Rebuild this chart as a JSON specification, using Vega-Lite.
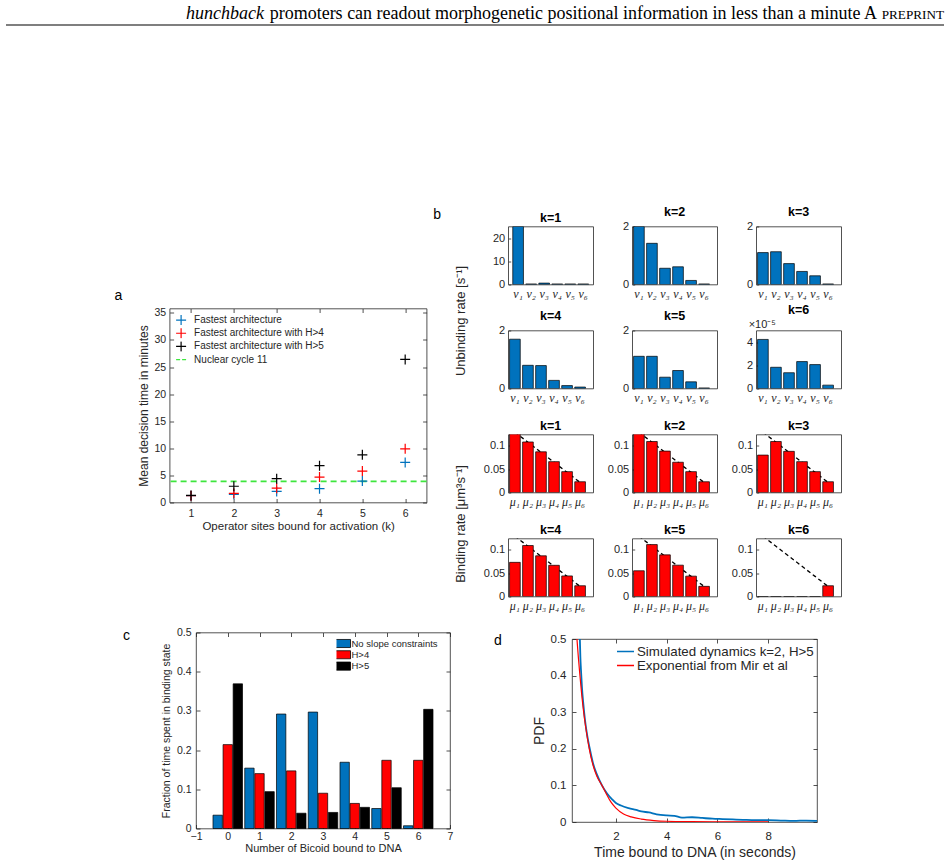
{
  "$schema": "https://vega.github.io/schema/vega-lite/v6.json",
  "background": "white",
  "padding": {"left": 5, "top": 5, "right": 5, "bottom": 5},
  "spacing": 179.5,
  "resolve": {"scale": {"color": "independent", "shape": "independent"}},
  "datasets": {
    "header": [
      {"style": "italic", "text": "hunchback"},
      {"style": "roman", "text": "promoters can readout morphogenetic positional information in less than a minute A"},
      {"style": "smallcaps", "text": "PREPRINT"}
    ],
    "decision": [
      {"k": 1, "time": 1.25, "series": "Fastest architecture"},
      {"k": 2, "time": 1.5, "series": "Fastest architecture"},
      {"k": 3, "time": 2.05, "series": "Fastest architecture"},
      {"k": 4, "time": 2.55, "series": "Fastest architecture"},
      {"k": 5, "time": 3.95, "series": "Fastest architecture"},
      {"k": 6, "time": 7.4, "series": "Fastest architecture"},
      {"k": 1, "time": 1.25, "series": "Fastest architecture with H>4"},
      {"k": 2, "time": 1.7, "series": "Fastest architecture with H>4"},
      {"k": 3, "time": 2.65, "series": "Fastest architecture with H>4"},
      {"k": 4, "time": 4.7, "series": "Fastest architecture with H>4"},
      {"k": 5, "time": 5.8, "series": "Fastest architecture with H>4"},
      {"k": 6, "time": 9.9, "series": "Fastest architecture with H>4"},
      {"k": 1, "time": 1.3, "series": "Fastest architecture with H>5"},
      {"k": 2, "time": 3.0, "series": "Fastest architecture with H>5"},
      {"k": 3, "time": 4.4, "series": "Fastest architecture with H>5"},
      {"k": 4, "time": 6.8, "series": "Fastest architecture with H>5"},
      {"k": 5, "time": 8.8, "series": "Fastest architecture with H>5"},
      {"k": 6, "time": 26.4, "series": "Fastest architecture with H>5"},
      {"time": 3.9, "series": "Nuclear cycle 11"}
    ],
    "unbind": [
      {"k": 1, "site": "ν₁", "rate": 25.3}, {"k": 1, "site": "ν₂", "rate": 0.25}, {"k": 1, "site": "ν₃", "rate": 0.6},
      {"k": 1, "site": "ν₄", "rate": 0.25}, {"k": 1, "site": "ν₅", "rate": 0.25}, {"k": 1, "site": "ν₆", "rate": 0.25},
      {"k": 2, "site": "ν₁", "rate": 2.0}, {"k": 2, "site": "ν₂", "rate": 1.42}, {"k": 2, "site": "ν₃", "rate": 0.56},
      {"k": 2, "site": "ν₄", "rate": 0.61}, {"k": 2, "site": "ν₅", "rate": 0.14}, {"k": 2, "site": "ν₆", "rate": 0.02},
      {"k": 3, "site": "ν₁", "rate": 1.1}, {"k": 3, "site": "ν₂", "rate": 1.13}, {"k": 3, "site": "ν₃", "rate": 0.72},
      {"k": 3, "site": "ν₄", "rate": 0.45}, {"k": 3, "site": "ν₅", "rate": 0.3}, {"k": 3, "site": "ν₆", "rate": 0.02},
      {"k": 4, "site": "ν₁", "rate": 1.7}, {"k": 4, "site": "ν₂", "rate": 0.8}, {"k": 4, "site": "ν₃", "rate": 0.79},
      {"k": 4, "site": "ν₄", "rate": 0.28}, {"k": 4, "site": "ν₅", "rate": 0.1}, {"k": 4, "site": "ν₆", "rate": 0.05},
      {"k": 5, "site": "ν₁", "rate": 1.11}, {"k": 5, "site": "ν₂", "rate": 1.11}, {"k": 5, "site": "ν₃", "rate": 0.39},
      {"k": 5, "site": "ν₄", "rate": 0.62}, {"k": 5, "site": "ν₅", "rate": 0.23}, {"k": 5, "site": "ν₆", "rate": 0.02},
      {"k": 6, "site": "ν₁", "rate": 4.23e-5}, {"k": 6, "site": "ν₂", "rate": 1.83e-5}, {"k": 6, "site": "ν₃", "rate": 1.36e-5},
      {"k": 6, "site": "ν₄", "rate": 2.32e-5}, {"k": 6, "site": "ν₅", "rate": 2.06e-5}, {"k": 6, "site": "ν₆", "rate": 0.29e-5}
    ],
    "bind": [
      {"k": 1, "site": "μ₁", "rate": 0.128}, {"k": 1, "site": "μ₂", "rate": 0.108}, {"k": 1, "site": "μ₃", "rate": 0.087},
      {"k": 1, "site": "μ₄", "rate": 0.066}, {"k": 1, "site": "μ₅", "rate": 0.0446}, {"k": 1, "site": "μ₆", "rate": 0.023},
      {"k": 2, "site": "μ₁", "rate": 0.128}, {"k": 2, "site": "μ₂", "rate": 0.109}, {"k": 2, "site": "μ₃", "rate": 0.0885},
      {"k": 2, "site": "μ₄", "rate": 0.0647}, {"k": 2, "site": "μ₅", "rate": 0.0446}, {"k": 2, "site": "μ₆", "rate": 0.023},
      {"k": 3, "site": "μ₁", "rate": 0.08}, {"k": 3, "site": "μ₂", "rate": 0.109}, {"k": 3, "site": "μ₃", "rate": 0.088},
      {"k": 3, "site": "μ₄", "rate": 0.066}, {"k": 3, "site": "μ₅", "rate": 0.0446}, {"k": 3, "site": "μ₆", "rate": 0.023},
      {"k": 4, "site": "μ₁", "rate": 0.073}, {"k": 4, "site": "μ₂", "rate": 0.109}, {"k": 4, "site": "μ₃", "rate": 0.087},
      {"k": 4, "site": "μ₄", "rate": 0.0667}, {"k": 4, "site": "μ₅", "rate": 0.044}, {"k": 4, "site": "μ₆", "rate": 0.023},
      {"k": 5, "site": "μ₁", "rate": 0.055}, {"k": 5, "site": "μ₂", "rate": 0.111}, {"k": 5, "site": "μ₃", "rate": 0.089},
      {"k": 5, "site": "μ₄", "rate": 0.067}, {"k": 5, "site": "μ₅", "rate": 0.0435}, {"k": 5, "site": "μ₆", "rate": 0.0217},
      {"k": 6, "site": "μ₁", "rate": 0}, {"k": 6, "site": "μ₂", "rate": 0}, {"k": 6, "site": "μ₃", "rate": 0},
      {"k": 6, "site": "μ₄", "rate": 0}, {"k": 6, "site": "μ₅", "rate": 0}, {"k": 6, "site": "μ₆", "rate": 0.023}
    ],
    "limit": [
      {"site": "μ₁", "rate": 0.129}, {"site": "μ₂", "rate": 0.1075}, {"site": "μ₃", "rate": 0.086},
      {"site": "μ₄", "rate": 0.0645}, {"site": "μ₅", "rate": 0.043}, {"site": "μ₆", "rate": 0.0215}
    ],
    "occupancy": [
      {"n": 0, "series": "No slope constraints", "fraction": 0.034}, {"n": 1, "series": "No slope constraints", "fraction": 0.154},
      {"n": 2, "series": "No slope constraints", "fraction": 0.292}, {"n": 3, "series": "No slope constraints", "fraction": 0.297},
      {"n": 4, "series": "No slope constraints", "fraction": 0.169}, {"n": 5, "series": "No slope constraints", "fraction": 0.051},
      {"n": 6, "series": "No slope constraints", "fraction": 0.007},
      {"n": 0, "series": "H>4", "fraction": 0.214}, {"n": 1, "series": "H>4", "fraction": 0.14},
      {"n": 2, "series": "H>4", "fraction": 0.147}, {"n": 3, "series": "H>4", "fraction": 0.09},
      {"n": 4, "series": "H>4", "fraction": 0.064}, {"n": 5, "series": "H>4", "fraction": 0.174},
      {"n": 6, "series": "H>4", "fraction": 0.174},
      {"n": 0, "series": "H>5", "fraction": 0.369}, {"n": 1, "series": "H>5", "fraction": 0.094},
      {"n": 2, "series": "H>5", "fraction": 0.039}, {"n": 3, "series": "H>5", "fraction": 0.041},
      {"n": 4, "series": "H>5", "fraction": 0.054}, {"n": 5, "series": "H>5", "fraction": 0.104},
      {"n": 6, "series": "H>5", "fraction": 0.304}
    ],
    "dwell": [
      {"series": "Simulated dynamics k=2, H>5", "t": 0.58, "pdf": 0.5},
      {"series": "Simulated dynamics k=2, H>5", "t": 0.6, "pdf": 0.45},
      {"series": "Simulated dynamics k=2, H>5", "t": 0.62, "pdf": 0.42},
      {"series": "Simulated dynamics k=2, H>5", "t": 0.66, "pdf": 0.37},
      {"series": "Simulated dynamics k=2, H>5", "t": 0.72, "pdf": 0.32},
      {"series": "Simulated dynamics k=2, H>5", "t": 0.78, "pdf": 0.28},
      {"series": "Simulated dynamics k=2, H>5", "t": 0.86, "pdf": 0.24},
      {"series": "Simulated dynamics k=2, H>5", "t": 0.97, "pdf": 0.2},
      {"series": "Simulated dynamics k=2, H>5", "t": 1.1, "pdf": 0.16},
      {"series": "Simulated dynamics k=2, H>5", "t": 1.25, "pdf": 0.13},
      {"series": "Simulated dynamics k=2, H>5", "t": 1.45, "pdf": 0.1},
      {"series": "Simulated dynamics k=2, H>5", "t": 1.65, "pdf": 0.078},
      {"series": "Simulated dynamics k=2, H>5", "t": 1.85, "pdf": 0.062},
      {"series": "Simulated dynamics k=2, H>5", "t": 2.0, "pdf": 0.052},
      {"series": "Simulated dynamics k=2, H>5", "t": 2.2, "pdf": 0.045},
      {"series": "Simulated dynamics k=2, H>5", "t": 2.5, "pdf": 0.038},
      {"series": "Simulated dynamics k=2, H>5", "t": 2.8, "pdf": 0.033},
      {"series": "Simulated dynamics k=2, H>5", "t": 3.0, "pdf": 0.029},
      {"series": "Simulated dynamics k=2, H>5", "t": 3.3, "pdf": 0.026},
      {"series": "Simulated dynamics k=2, H>5", "t": 3.6, "pdf": 0.021},
      {"series": "Simulated dynamics k=2, H>5", "t": 4.0, "pdf": 0.018},
      {"series": "Simulated dynamics k=2, H>5", "t": 4.3, "pdf": 0.017},
      {"series": "Simulated dynamics k=2, H>5", "t": 4.6, "pdf": 0.012},
      {"series": "Simulated dynamics k=2, H>5", "t": 5.0, "pdf": 0.013},
      {"series": "Simulated dynamics k=2, H>5", "t": 5.4, "pdf": 0.011},
      {"series": "Simulated dynamics k=2, H>5", "t": 5.8, "pdf": 0.009},
      {"series": "Simulated dynamics k=2, H>5", "t": 6.2, "pdf": 0.008},
      {"series": "Simulated dynamics k=2, H>5", "t": 6.6, "pdf": 0.007},
      {"series": "Simulated dynamics k=2, H>5", "t": 7.0, "pdf": 0.006},
      {"series": "Simulated dynamics k=2, H>5", "t": 7.5, "pdf": 0.005},
      {"series": "Simulated dynamics k=2, H>5", "t": 8.0, "pdf": 0.005},
      {"series": "Simulated dynamics k=2, H>5", "t": 8.5, "pdf": 0.004},
      {"series": "Simulated dynamics k=2, H>5", "t": 9.0, "pdf": 0.003},
      {"series": "Simulated dynamics k=2, H>5", "t": 9.5, "pdf": 0.004},
      {"series": "Simulated dynamics k=2, H>5", "t": 9.92, "pdf": 0.003},
      {"series": "Exponential from Mir et al", "t": 0.465, "pdf": 0.5},
      {"series": "Exponential from Mir et al", "t": 0.52, "pdf": 0.45},
      {"series": "Exponential from Mir et al", "t": 0.583, "pdf": 0.4},
      {"series": "Exponential from Mir et al", "t": 0.65, "pdf": 0.35},
      {"series": "Exponential from Mir et al", "t": 0.73, "pdf": 0.3},
      {"series": "Exponential from Mir et al", "t": 0.83, "pdf": 0.25},
      {"series": "Exponential from Mir et al", "t": 0.95, "pdf": 0.2},
      {"series": "Exponential from Mir et al", "t": 1.1, "pdf": 0.155},
      {"series": "Exponential from Mir et al", "t": 1.25, "pdf": 0.125},
      {"series": "Exponential from Mir et al", "t": 1.45, "pdf": 0.1},
      {"series": "Exponential from Mir et al", "t": 1.6, "pdf": 0.08},
      {"series": "Exponential from Mir et al", "t": 1.8, "pdf": 0.055},
      {"series": "Exponential from Mir et al", "t": 2.0, "pdf": 0.038},
      {"series": "Exponential from Mir et al", "t": 2.3, "pdf": 0.022},
      {"series": "Exponential from Mir et al", "t": 2.6, "pdf": 0.014},
      {"series": "Exponential from Mir et al", "t": 3.0, "pdf": 0.008},
      {"series": "Exponential from Mir et al", "t": 3.5, "pdf": 0.004},
      {"series": "Exponential from Mir et al", "t": 4.0, "pdf": 0.002},
      {"series": "Exponential from Mir et al", "t": 5.0, "pdf": 0.0008},
      {"series": "Exponential from Mir et al", "t": 6.0, "pdf": 0.0004},
      {"series": "Exponential from Mir et al", "t": 7.0, "pdf": 0.0002},
      {"series": "Exponential from Mir et al", "t": 8.0, "pdf": 0.0001}
    ]
  },
  "vconcat": [
    {
      "width": 938,
      "height": 20,
      "view": {"stroke": null},
      "data": {"name": "header"},
      "layer": [
        {
          "transform": [{"filter": "datum.style == 'smallcaps'"}],
          "mark": {"type": "rule", "color": "#000000", "strokeWidth": 1.2},
          "encoding": {
            "x": {"datum": 0, "type": "quantitative", "scale": {"domain": [0, 1]}, "axis": null},
            "x2": {"datum": 1},
            "y": {"datum": 0, "type": "quantitative", "scale": {"domain": [0, 20]}, "axis": null}
          }
        },
        {
          "transform": [{"filter": "datum.style == 'smallcaps'"}],
          "mark": {"type": "text", "align": "right", "baseline": "alphabetic", "font": "Liberation Serif", "fontSize": 13.2, "color": "#000000"},
          "encoding": {"x": {"datum": 1, "type": "quantitative"}, "y": {"datum": 6, "type": "quantitative"}, "text": {"field": "text"}}
        },
        {
          "transform": [{"filter": "datum.style == 'roman'"}],
          "mark": {"type": "text", "align": "right", "baseline": "alphabetic", "font": "Liberation Serif", "fontSize": 18, "color": "#000000", "dx": -67},
          "encoding": {"x": {"datum": 1, "type": "quantitative"}, "y": {"datum": 6, "type": "quantitative"}, "text": {"field": "text"}}
        },
        {
          "transform": [{"filter": "datum.style == 'italic'"}],
          "mark": {"type": "text", "align": "right", "baseline": "alphabetic", "font": "Liberation Serif", "fontStyle": "italic", "fontSize": 18, "color": "#000000", "dx": -680},
          "encoding": {"x": {"datum": 1, "type": "quantitative"}, "y": {"datum": 6, "type": "quantitative"}, "text": {"field": "text"}}
        }
      ]
    },
    {
      "spacing": 14,
      "resolve": {"scale": {"color": "independent", "shape": "independent"}},
      "vconcat": [
        {
          "spacing": 4.6,
          "resolve": {"scale": {"color": "independent", "shape": "independent"}},
          "hconcat": [
            {"width": 102.4, "height": 1, "view": {"stroke": null}, "data": {"values": []}, "mark": "point"},
            {
              "bounds": "flush",
              "spacing": 20,
              "resolve": {"scale": {"color": "independent", "shape": "independent"}},
              "vconcat": [
                {"width": 1, "height": 61.3, "view": {"stroke": null}, "data": {"values": []}, "mark": "point"},
                {
                  "width": 257,
                  "height": 194,
                  "title": {"text": "a", "anchor": "start", "frame": "group", "dx": -55, "offset": -5.85, "baseline": "alphabetic", "fontSize": 14},
                  "data": {"name": "decision"},
                  "layer": [
                    {
                      "transform": [{"filter": "datum.series == 'Nuclear cycle 11'"}],
                      "mark": {"type": "rule", "strokeDash": [6, 4], "strokeWidth": 1.6},
                      "encoding": {
                        "y": {
                          "field": "time", "type": "quantitative",
                          "scale": {"domain": [0, 35.8], "nice": false},
                          "axis": {"values": [0, 5, 10, 15, 20, 25, 30, 35], "title": "Mean decision time in minutes", "labelPadding": 8, "titlePadding": 3, "titleFontSize": 12}
                        },
                        "color": {
                          "field": "series", "type": "nominal",
                          "scale": {"domain": ["Fastest architecture", "Fastest architecture with H>4", "Fastest architecture with H>5", "Nuclear cycle 11"], "range": ["#0072BD", "#FF0000", "#000000", "#3ee63e"]},
                          "legend": {"orient": "none", "legendX": 4.5, "legendY": 5.3, "title": null, "padding": 1, "labelFontSize": 10, "symbolSize": 100, "symbolStrokeWidth": 1.2, "clipHeight": 10.5, "rowPadding": 2.2, "labelOffset": 7}
                        }
                      }
                    },
                    {
                      "transform": [{"filter": "datum.series != 'Nuclear cycle 11'"}],
                      "mark": {"type": "point", "filled": false, "size": 100, "strokeWidth": 1.2, "opacity": 1},
                      "encoding": {
                        "x": {
                          "field": "k", "type": "quantitative",
                          "scale": {"domain": [0.5, 6.5], "nice": false},
                          "axis": {"values": [1, 2, 3, 4, 5, 6], "title": "Operator sites bound for activation (k)", "labelPadding": 10, "titlePadding": 1, "titleFontSize": 11.5}
                        },
                        "y": {"field": "time", "type": "quantitative", "axis": null},
                        "color": {
                          "field": "series", "type": "nominal",
                          "scale": {"domain": ["Fastest architecture", "Fastest architecture with H>4", "Fastest architecture with H>5", "Nuclear cycle 11"], "range": ["#0072BD", "#FF0000", "#000000", "#3ee63e"]}
                        },
                        "shape": {
                          "field": "series", "type": "nominal",
                          "scale": {"domain": ["Fastest architecture", "Fastest architecture with H>4", "Fastest architecture with H>5", "Nuclear cycle 11"], "range": ["M-1,0H1M0,-1V1", "M-1,0H1M0,-1V1", "M-1,0H1M0,-1V1", "M-1,0H-0.2M0.2,0H1"]}
                        }
                      }
                    },
                    {
                      "transform": [{"filter": "datum.series != 'Nuclear cycle 11'"}],
                      "mark": {"type": "point", "opacity": 0},
                      "encoding": {
                        "x": {"field": "k", "type": "quantitative", "axis": {"orient": "top", "values": [1, 2, 3, 4, 5, 6], "labels": false, "title": null}},
                        "y": {"field": "time", "type": "quantitative", "axis": {"orient": "right", "values": [0, 5, 10, 15, 20, 25, 30, 35], "labels": false, "title": null}}
                      }
                    }
                  ],
                  "resolve": {"axis": {"x": "independent", "y": "independent"}}
                }
              ]
            },
            {
              "bounds": "flush",
              "columns": 3,
              "spacing": {"row": 46, "column": 39},
              "title": {"text": "b", "anchor": "start", "frame": "group", "dx": -75, "offset": -27.5, "baseline": "alphabetic", "fontSize": 14},
              "concat": [
                {
                  "width": 85, "height": 58,
                  "title": {"text": "k=1", "fontWeight": "bold", "fontSize": 12.5, "offset": 2},
                  "data": {"name": "unbind"},
                  "transform": [{"filter": "datum.k == 1"}],
                  "mark": {"type": "bar", "fill": "#0072BD", "stroke": "#000000", "strokeWidth": 0.7, "clip": true},
                  "encoding": {
                    "x": {"field": "site", "type": "nominal", "sort": null, "scale": {"paddingInner": 0.18, "paddingOuter": 0.35, "align": 0.5}, "axis": {"title": null, "labelAngle": 0, "ticks": false, "labelPadding": 4, "labelFont": "Liberation Serif", "labelFontStyle": "italic", "labelFontSize": 12}},
                    "y": {"field": "rate", "type": "quantitative", "scale": {"domain": [0, 25.3], "nice": false}, "axis": {"values": [0, 10, 20], "format": "d", "tickSize": -2.5, "labelPadding": 6, "labelFontSize": 11, "title": "Unbinding rate [s⁻¹]", "titleX": -48, "titleY": 94, "titleBaseline": "middle", "titleFontSize": 13}}
                  }
                },
                {
                  "width": 85, "height": 58,
                  "title": {"text": "k=2", "fontWeight": "bold", "fontSize": 12.5, "offset": 2},
                  "data": {"name": "unbind"},
                  "transform": [{"filter": "datum.k == 2"}],
                  "mark": {"type": "bar", "fill": "#0072BD", "stroke": "#000000", "strokeWidth": 0.7, "clip": true},
                  "encoding": {
                    "x": {"field": "site", "type": "nominal", "sort": null, "scale": {"paddingInner": 0.18, "paddingOuter": 0.35, "align": 0.15}, "axis": {"title": null, "labelAngle": 0, "ticks": false, "labelPadding": 4, "labelFont": "Liberation Serif", "labelFontStyle": "italic", "labelFontSize": 12}},
                    "y": {"field": "rate", "type": "quantitative", "scale": {"domain": [0, 2], "nice": false}, "axis": {"values": [0, 1, 2], "format": "d", "tickSize": -2.5, "labelPadding": 6, "labelFontSize": 11, "title": null}}
                  }
                },
                {
                  "width": 85, "height": 58,
                  "title": {"text": "k=3", "fontWeight": "bold", "fontSize": 12.5, "offset": 2},
                  "data": {"name": "unbind"},
                  "transform": [{"filter": "datum.k == 3"}],
                  "mark": {"type": "bar", "fill": "#0072BD", "stroke": "#000000", "strokeWidth": 0.7, "clip": true},
                  "encoding": {
                    "x": {"field": "site", "type": "nominal", "sort": null, "scale": {"paddingInner": 0.18, "paddingOuter": 0.35, "align": 0.15}, "axis": {"title": null, "labelAngle": 0, "ticks": false, "labelPadding": 4, "labelFont": "Liberation Serif", "labelFontStyle": "italic", "labelFontSize": 12}},
                    "y": {"field": "rate", "type": "quantitative", "scale": {"domain": [0, 2], "nice": false}, "axis": {"values": [0, 1, 2], "format": "d", "tickSize": -2.5, "labelPadding": 6, "labelFontSize": 11, "title": null}}
                  }
                },
                {
                  "width": 85, "height": 58,
                  "title": {"text": "k=4", "fontWeight": "bold", "fontSize": 12.5, "offset": 2},
                  "data": {"name": "unbind"},
                  "transform": [{"filter": "datum.k == 4"}],
                  "mark": {"type": "bar", "fill": "#0072BD", "stroke": "#000000", "strokeWidth": 0.7, "clip": true},
                  "encoding": {
                    "x": {"field": "site", "type": "nominal", "sort": null, "scale": {"paddingInner": 0.18, "paddingOuter": 0.35, "align": 0.15}, "axis": {"title": null, "labelAngle": 0, "ticks": false, "labelPadding": 4, "labelFont": "Liberation Serif", "labelFontStyle": "italic", "labelFontSize": 12}},
                    "y": {"field": "rate", "type": "quantitative", "scale": {"domain": [0, 2], "nice": false}, "axis": {"values": [0, 1, 2], "format": "d", "tickSize": -2.5, "labelPadding": 6, "labelFontSize": 11, "title": null}}
                  }
                },
                {
                  "width": 85, "height": 58,
                  "title": {"text": "k=5", "fontWeight": "bold", "fontSize": 12.5, "offset": 2},
                  "data": {"name": "unbind"},
                  "transform": [{"filter": "datum.k == 5"}],
                  "mark": {"type": "bar", "fill": "#0072BD", "stroke": "#000000", "strokeWidth": 0.7, "clip": true},
                  "encoding": {
                    "x": {"field": "site", "type": "nominal", "sort": null, "scale": {"paddingInner": 0.18, "paddingOuter": 0.35, "align": 0.15}, "axis": {"title": null, "labelAngle": 0, "ticks": false, "labelPadding": 4, "labelFont": "Liberation Serif", "labelFontStyle": "italic", "labelFontSize": 12}},
                    "y": {"field": "rate", "type": "quantitative", "scale": {"domain": [0, 2], "nice": false}, "axis": {"values": [0, 1, 2], "format": "d", "tickSize": -2.5, "labelPadding": 6, "labelFontSize": 11, "title": null}}
                  }
                },
                {
                  "width": 85, "height": 58,
                  "title": {"text": "k=6", "fontWeight": "bold", "fontSize": 12.5, "offset": 2},
                  "data": {"name": "unbind"},
                  "transform": [{"filter": "datum.k == 6"}],
                  "mark": {"type": "bar", "fill": "#0072BD", "stroke": "#000000", "strokeWidth": 0.7, "clip": true},
                  "encoding": {
                    "x": {"field": "site", "type": "nominal", "sort": null, "scale": {"paddingInner": 0.18, "paddingOuter": 0.35, "align": 0.15}, "axis": {"title": null, "labelAngle": 0, "ticks": false, "labelPadding": 4, "labelFont": "Liberation Serif", "labelFontStyle": "italic", "labelFontSize": 12}},
                    "y": {"field": "rate", "type": "quantitative", "scale": {"domain": [0, 5e-5], "nice": false}, "axis": {"values": [0, 2e-5, 4e-5], "labelExpr": "format(datum.value * 100000, '~g')", "tickSize": -2.5, "labelPadding": 6, "labelFontSize": 11, "title": "×10⁻⁵", "titleAngle": 0, "titleAlign": "left", "titleBaseline": "alphabetic", "titleX": -8, "titleY": -3, "titleFontSize": 11}}
                  }
                },
                {
                  "width": 85, "height": 58,
                  "title": {"text": "k=1", "fontWeight": "bold", "fontSize": 12.5, "offset": 2},
                  "encoding": {
                    "x": {"field": "site", "type": "nominal", "sort": null, "scale": {"paddingInner": 0.18, "paddingOuter": 0.35, "align": 0.15}, "axis": {"title": null, "labelAngle": 0, "ticks": false, "labelPadding": 4, "labelFont": "Liberation Serif", "labelFontStyle": "italic", "labelFontSize": 12}},
                    "y": {"field": "rate", "type": "quantitative", "scale": {"domain": [0, 0.124], "nice": false}, "axis": {"values": [0, 0.05, 0.1], "format": "~g", "tickSize": -2.5, "labelPadding": 6, "labelFontSize": 11, "title": "Binding rate [μm³s⁻¹]", "titleX": -48, "titleY": 89, "titleBaseline": "middle", "titleFontSize": 13}}
                  },
                  "layer": [
                    {"data": {"name": "limit"}, "mark": {"type": "line", "color": "#000000", "strokeWidth": 1.3, "strokeDash": [4, 3], "clip": true}},
                    {"data": {"name": "bind"}, "transform": [{"filter": "datum.k == 1"}], "mark": {"type": "bar", "fill": "#FF0000", "stroke": "#000000", "strokeWidth": 0.7, "clip": true}}
                  ]
                },
                {
                  "width": 85, "height": 58,
                  "title": {"text": "k=2", "fontWeight": "bold", "fontSize": 12.5, "offset": 2},
                  "encoding": {
                    "x": {"field": "site", "type": "nominal", "sort": null, "scale": {"paddingInner": 0.18, "paddingOuter": 0.35, "align": 0.15}, "axis": {"title": null, "labelAngle": 0, "ticks": false, "labelPadding": 4, "labelFont": "Liberation Serif", "labelFontStyle": "italic", "labelFontSize": 12}},
                    "y": {"field": "rate", "type": "quantitative", "scale": {"domain": [0, 0.124], "nice": false}, "axis": {"values": [0, 0.05, 0.1], "format": "~g", "tickSize": -2.5, "labelPadding": 6, "labelFontSize": 11, "title": null}}
                  },
                  "layer": [
                    {"data": {"name": "limit"}, "mark": {"type": "line", "color": "#000000", "strokeWidth": 1.3, "strokeDash": [4, 3], "clip": true}},
                    {"data": {"name": "bind"}, "transform": [{"filter": "datum.k == 2"}], "mark": {"type": "bar", "fill": "#FF0000", "stroke": "#000000", "strokeWidth": 0.7, "clip": true}}
                  ]
                },
                {
                  "width": 85, "height": 58,
                  "title": {"text": "k=3", "fontWeight": "bold", "fontSize": 12.5, "offset": 2},
                  "encoding": {
                    "x": {"field": "site", "type": "nominal", "sort": null, "scale": {"paddingInner": 0.18, "paddingOuter": 0.35, "align": 0.15}, "axis": {"title": null, "labelAngle": 0, "ticks": false, "labelPadding": 4, "labelFont": "Liberation Serif", "labelFontStyle": "italic", "labelFontSize": 12}},
                    "y": {"field": "rate", "type": "quantitative", "scale": {"domain": [0, 0.124], "nice": false}, "axis": {"values": [0, 0.05, 0.1], "format": "~g", "tickSize": -2.5, "labelPadding": 6, "labelFontSize": 11, "title": null}}
                  },
                  "layer": [
                    {"data": {"name": "limit"}, "mark": {"type": "line", "color": "#000000", "strokeWidth": 1.3, "strokeDash": [4, 3], "clip": true}},
                    {"data": {"name": "bind"}, "transform": [{"filter": "datum.k == 3"}], "mark": {"type": "bar", "fill": "#FF0000", "stroke": "#000000", "strokeWidth": 0.7, "clip": true}}
                  ]
                },
                {
                  "width": 85, "height": 58,
                  "title": {"text": "k=4", "fontWeight": "bold", "fontSize": 12.5, "offset": 2},
                  "encoding": {
                    "x": {"field": "site", "type": "nominal", "sort": null, "scale": {"paddingInner": 0.18, "paddingOuter": 0.35, "align": 0.15}, "axis": {"title": null, "labelAngle": 0, "ticks": false, "labelPadding": 4, "labelFont": "Liberation Serif", "labelFontStyle": "italic", "labelFontSize": 12}},
                    "y": {"field": "rate", "type": "quantitative", "scale": {"domain": [0, 0.124], "nice": false}, "axis": {"values": [0, 0.05, 0.1], "format": "~g", "tickSize": -2.5, "labelPadding": 6, "labelFontSize": 11, "title": null}}
                  },
                  "layer": [
                    {"data": {"name": "limit"}, "mark": {"type": "line", "color": "#000000", "strokeWidth": 1.3, "strokeDash": [4, 3], "clip": true}},
                    {"data": {"name": "bind"}, "transform": [{"filter": "datum.k == 4"}], "mark": {"type": "bar", "fill": "#FF0000", "stroke": "#000000", "strokeWidth": 0.7, "clip": true}}
                  ]
                },
                {
                  "width": 85, "height": 58,
                  "title": {"text": "k=5", "fontWeight": "bold", "fontSize": 12.5, "offset": 2},
                  "encoding": {
                    "x": {"field": "site", "type": "nominal", "sort": null, "scale": {"paddingInner": 0.18, "paddingOuter": 0.35, "align": 0.15}, "axis": {"title": null, "labelAngle": 0, "ticks": false, "labelPadding": 4, "labelFont": "Liberation Serif", "labelFontStyle": "italic", "labelFontSize": 12}},
                    "y": {"field": "rate", "type": "quantitative", "scale": {"domain": [0, 0.124], "nice": false}, "axis": {"values": [0, 0.05, 0.1], "format": "~g", "tickSize": -2.5, "labelPadding": 6, "labelFontSize": 11, "title": null}}
                  },
                  "layer": [
                    {"data": {"name": "limit"}, "mark": {"type": "line", "color": "#000000", "strokeWidth": 1.3, "strokeDash": [4, 3], "clip": true}},
                    {"data": {"name": "bind"}, "transform": [{"filter": "datum.k == 5"}], "mark": {"type": "bar", "fill": "#FF0000", "stroke": "#000000", "strokeWidth": 0.7, "clip": true}}
                  ]
                },
                {
                  "width": 85, "height": 58,
                  "title": {"text": "k=6", "fontWeight": "bold", "fontSize": 12.5, "offset": 2},
                  "encoding": {
                    "x": {"field": "site", "type": "nominal", "sort": null, "scale": {"paddingInner": 0.18, "paddingOuter": 0.35, "align": 0.15}, "axis": {"title": null, "labelAngle": 0, "ticks": false, "labelPadding": 4, "labelFont": "Liberation Serif", "labelFontStyle": "italic", "labelFontSize": 12}},
                    "y": {"field": "rate", "type": "quantitative", "scale": {"domain": [0, 0.124], "nice": false}, "axis": {"values": [0, 0.05, 0.1], "format": "~g", "tickSize": -2.5, "labelPadding": 6, "labelFontSize": 11, "title": null}}
                  },
                  "layer": [
                    {"data": {"name": "limit"}, "mark": {"type": "line", "color": "#000000", "strokeWidth": 1.3, "strokeDash": [4, 3], "clip": true}},
                    {"data": {"name": "bind"}, "transform": [{"filter": "datum.k == 6"}], "mark": {"type": "bar", "fill": "#FF0000", "stroke": "#000000", "strokeWidth": 0.7, "clip": true}}
                  ]
                }
              ]
            }
          ]
        },
        {
          "bounds": "flush",
          "center": true,
          "spacing": 122,
          "resolve": {"scale": {"color": "independent", "shape": "independent"}},
          "hconcat": [
            {"width": 68, "height": 1, "view": {"stroke": null}, "data": {"values": []}, "mark": "point"},
            {
              "width": 254,
              "height": 196,
              "title": {"text": "c", "anchor": "start", "frame": "group", "dx": -73, "offset": -26.75, "baseline": "alphabetic", "fontSize": 14},
              "data": {"name": "occupancy"},
              "layer": [
                {
                  "mark": {"type": "bar", "stroke": "#000000", "strokeWidth": 0.7},
                  "encoding": {
                    "x": {"field": "n", "type": "ordinal", "scale": {"domain": [0, 1, 2, 3, 4, 5, 6], "paddingInner": 0.07, "paddingOuter": 0.535}, "axis": null},
                    "xOffset": {"field": "series", "type": "nominal", "scale": {"domain": ["No slope constraints", "H>4", "H>5"], "paddingInner": 0.07}},
                    "y": {"field": "fraction", "type": "quantitative", "scale": {"domain": [0, 0.5], "nice": false}, "axis": {"values": [0, 0.1, 0.2, 0.3, 0.4, 0.5], "format": "~g", "labelPadding": 9, "titlePadding": 5, "title": "Fraction of time spent in binding state", "titleFontSize": 10.5}},
                    "color": {
                      "field": "series", "type": "nominal",
                      "scale": {"domain": ["No slope constraints", "H>4", "H>5"], "range": ["#0072BD", "#FF0000", "#000000"]},
                      "legend": {"orient": "none", "legendX": 139.5, "legendY": 5, "title": null, "padding": 1, "labelFontSize": 9.5, "symbolType": "M-2,-0.9H2V0.9H-2Z", "symbolSize": 81, "symbolStrokeColor": "#000000", "symbolStrokeWidth": 0.8, "clipHeight": 10, "rowPadding": 1.3, "labelOffset": 5}
                    }
                  }
                },
                {
                  "mark": {"type": "point", "opacity": 0},
                  "encoding": {
                    "x": {"field": "n", "type": "quantitative", "scale": {"domain": [-1, 7], "nice": false}, "axis": {"values": [-1, 0, 1, 2, 3, 4, 5, 6, 7], "labelPadding": 7, "titlePadding": 0, "title": "Number of Bicoid bound to DNA", "titleFontSize": 11}},
                    "y": {"field": "fraction", "type": "quantitative", "axis": null}
                  }
                },
                {
                  "mark": {"type": "point", "opacity": 0},
                  "encoding": {
                    "x": {"field": "n", "type": "quantitative", "scale": {"domain": [-1, 7], "nice": false}, "axis": {"orient": "top", "values": [-1, 0, 1, 2, 3, 4, 5, 6, 7], "labels": false, "title": null}},
                    "y": {"field": "fraction", "type": "quantitative", "axis": {"orient": "right", "values": [0, 0.1, 0.2, 0.3, 0.4, 0.5], "labels": false, "title": null}}
                  }
                }
              ],
              "resolve": {"scale": {"x": "independent"}, "axis": {"x": "independent", "y": "independent"}}
            },
            {
              "width": 245,
              "height": 183,
              "title": {"text": "d", "anchor": "start", "frame": "group", "dx": -78, "offset": -25.75, "baseline": "alphabetic", "fontSize": 14},
              "data": {"name": "dwell"},
              "layer": [
                {
                  "transform": [{"filter": "datum.series == 'Simulated dynamics k=2, H>5'"}],
                  "mark": {"type": "line", "strokeWidth": 1.8, "clip": true, "interpolate": "monotone"},
                  "encoding": {
                    "x": {"field": "t", "type": "quantitative", "scale": {"domain": [0.27, 9.92], "nice": false}, "axis": {"values": [2, 4, 6, 8], "labelPadding": 12, "labelFontSize": 11.5, "titlePadding": 4, "title": "Time bound to DNA (in seconds)", "titleFontSize": 14}},
                    "y": {"field": "pdf", "type": "quantitative", "scale": {"domain": [0, 0.5], "nice": false}, "axis": {"values": [0, 0.1, 0.2, 0.3, 0.4, 0.5], "format": "~g", "labelPadding": 10, "labelFontSize": 11.5, "titlePadding": 4, "title": "PDF", "titleFontSize": 14}},
                    "color": {
                      "field": "series", "type": "nominal",
                      "scale": {"domain": ["Simulated dynamics k=2, H>5", "Exponential from Mir et al"], "range": ["#0072BD", "#FF0000"]},
                      "legend": {"orient": "none", "legendX": 42, "legendY": 3.5, "title": null, "padding": 2, "labelFontSize": 13.3, "labelLimit": 300, "symbolType": "stroke", "symbolSize": 289, "symbolStrokeWidth": 1.5, "clipHeight": 14, "rowPadding": 0, "labelOffset": 2}
                    }
                  }
                },
                {
                  "transform": [{"filter": "datum.series == 'Exponential from Mir et al'"}],
                  "mark": {"type": "line", "strokeWidth": 1.2, "clip": true, "interpolate": "monotone"},
                  "encoding": {
                    "x": {"field": "t", "type": "quantitative", "axis": null},
                    "y": {"field": "pdf", "type": "quantitative", "axis": null},
                    "color": {"field": "series", "type": "nominal"}
                  }
                },
                {
                  "mark": {"type": "point", "opacity": 0},
                  "encoding": {
                    "x": {"field": "t", "type": "quantitative", "axis": {"orient": "top", "values": [2, 4, 6, 8], "labels": false, "title": null}},
                    "y": {"field": "pdf", "type": "quantitative", "axis": {"orient": "right", "values": [0, 0.1, 0.2, 0.3, 0.4, 0.5], "labels": false, "title": null}}
                  }
                }
              ],
              "resolve": {"axis": {"x": "independent", "y": "independent"}}
            }
          ]
        }
      ]
    }
  ],
  "config": {
    "font": "Liberation Sans",
    "view": {"stroke": "#262626", "strokeWidth": 0.8},
    "axis": {
      "domain": false, "grid": false, "tickSize": -4, "tickColor": "#262626", "tickWidth": 0.8,
      "labelColor": "#262626", "titleColor": "#262626", "labelFont": "Liberation Sans", "titleFont": "Liberation Sans",
      "titleFontWeight": "normal", "labelFontSize": 10.5, "titleFontSize": 12, "labelOverlap": false, "labelFlush": false
    },
    "title": {"font": "Liberation Sans", "color": "#000000", "fontWeight": "normal", "fontSize": 14},
    "legend": {"labelFont": "Liberation Sans", "labelColor": "#262626"}
  }
}
